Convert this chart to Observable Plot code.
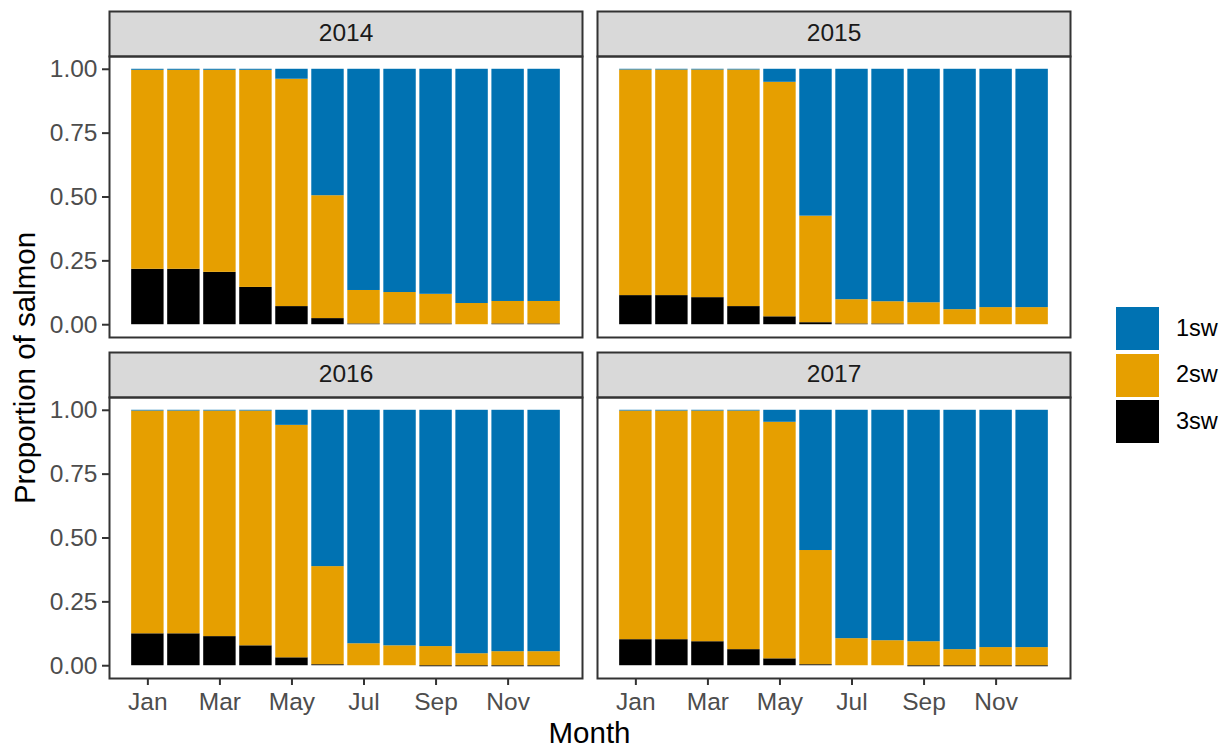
<!DOCTYPE html>
<html><head><meta charset="utf-8">
<script src="https://cdn.jsdelivr.net/npm/d3@7"></script>
<script src="https://cdn.jsdelivr.net/npm/@observablehq/plot@0.6"></script>
<style>
body{margin:0;background:#fff;font-family:"Liberation Sans",Arial,sans-serif;}
#wrap{position:relative;width:1226px;height:747px;overflow:hidden;background:#fff;}
#chart{position:absolute;left:0;top:0;}
.ytitle{position:absolute;left:25px;top:368px;transform:translate(-50%,-50%) rotate(-90deg);font-size:29.5px;white-space:nowrap;color:#000;line-height:1;}
.xtitle{position:absolute;left:589.5px;top:732.5px;transform:translate(-50%,-50%);font-size:29.5px;white-space:nowrap;color:#000;line-height:0.9;}
.key{position:absolute;left:1116px;width:43px;height:43px;}
.klab{position:absolute;left:1176px;font-size:23.5px;line-height:1;transform:translateY(-50%);color:#000;}
</style></head><body>
<div id="wrap">
  <div id="chart"></div>
  <div class="ytitle">Proportion of salmon</div>
  <div class="xtitle">Month</div>
  <div id="legend"></div>
</div>
<script>
const months = ["Jan","Feb","Mar","Apr","May","Jun","Jul","Aug","Sep","Oct","Nov","Dec"];
const monthTicks = ["Jan","Mar","May","Jul","Sep","Nov"];
const years = ["2014","2015","2016","2017"];
const ages = ["1sw","2sw","3sw"];
const ageColors = ["#0072B2","#E69F00","#000000"];
const yTicks = [0, 0.25, 0.5, 0.75, 1];

// Proportions by month (Jan..Dec)
const sw3_2014 = [0.217, 0.217, 0.205, 0.146, 0.071, 0.024, 0.003, 0.003, 0.003, 0.000, 0.003, 0.003];
const sw2_2014 = [0.779, 0.779, 0.791, 0.850, 0.890, 0.481, 0.131, 0.123, 0.116, 0.083, 0.088, 0.088];
const sw1_2014 = [0.004, 0.004, 0.004, 0.004, 0.039, 0.495, 0.866, 0.874, 0.881, 0.917, 0.909, 0.909];

const sw3_2015 = [0.114, 0.114, 0.106, 0.071, 0.031, 0.008, 0.003, 0.003, 0.000, 0.000, 0.000, 0.000];
const sw2_2015 = [0.883, 0.883, 0.891, 0.926, 0.918, 0.417, 0.095, 0.087, 0.086, 0.059, 0.067, 0.067];
const sw1_2015 = [0.003, 0.003, 0.003, 0.003, 0.051, 0.575, 0.902, 0.910, 0.914, 0.941, 0.933, 0.933];

const sw3_2016 = [0.125, 0.125, 0.114, 0.078, 0.031, 0.004, 0.000, 0.000, -0.004, -0.004, -0.004, -0.004];
const sw2_2016 = [0.872, 0.872, 0.883, 0.919, 0.910, 0.384, 0.086, 0.078, 0.075, 0.047, 0.055, 0.055];
const sw1_2016 = [0.003, 0.003, 0.003, 0.003, 0.059, 0.612, 0.914, 0.922, 0.925, 0.953, 0.945, 0.945];

const sw3_2017 = [0.102, 0.102, 0.094, 0.063, 0.027, 0.004, 0.000, 0.000, -0.004, -0.004, -0.004, -0.004];
const sw2_2017 = [0.895, 0.895, 0.903, 0.934, 0.926, 0.447, 0.106, 0.098, 0.094, 0.063, 0.071, 0.071];
const sw1_2017 = [0.003, 0.003, 0.003, 0.003, 0.047, 0.549, 0.894, 0.902, 0.906, 0.937, 0.929, 0.929];

const series = {
  "2014": {"3sw": sw3_2014, "2sw": sw2_2014, "1sw": sw1_2014},
  "2015": {"3sw": sw3_2015, "2sw": sw2_2015, "1sw": sw1_2015},
  "2016": {"3sw": sw3_2016, "2sw": sw2_2016, "1sw": sw1_2016},
  "2017": {"3sw": sw3_2017, "2sw": sw2_2017, "1sw": sw1_2017}
};

const panels = years.map((year, i) => ({year, col: i % 2, row: Math.floor(i / 2)}));
const rows = [];
for (const p of panels) {
  for (const age of ["3sw","2sw","1sw"]) {
    series[p.year][age].forEach((v, j) => rows.push({year: p.year, col: p.col, row: p.row, month: months[j], age, value: v}));
  }
}

const chart = Plot.plot({
  width: 1226, height: 747,
  marginLeft: 109, marginRight: 156, marginTop: 56, marginBottom: 69,
  style: {fontFamily: '"Liberation Sans", Arial, sans-serif', fontSize: "24.5px", background: "transparent", color: "#000"},
  fx: {domain: [0, 1], paddingInner: 15 / 488, paddingOuter: 0, axis: null, round: false, label: null},
  fy: {domain: [0, 1], paddingInner: 0.176, paddingOuter: 0, axis: null, round: false, label: null},
  x: {domain: months, paddingInner: 0.1, paddingOuter: 0.615, align: 0.5, round: false, label: null, axis: null},
  y: {domain: [-0.05, 1.05], label: null, axis: null},
  color: {domain: ages, range: ageColors},
  marks: [
    Plot.frame({fill: "#D9D9D9", stroke: "#333333", strokeWidth: 2, insetTop: -45, insetBottom: 281}),
    Plot.text(panels, {fx: "col", fy: "row", text: "year", frameAnchor: "top", lineAnchor: "middle", dy: -23, fill: "#1A1A1A"}),
    Plot.barY(rows, {fx: "col", fy: "row", x: "month", y: "value", fill: "age"}),
    Plot.frame({stroke: "#333333", strokeWidth: 2}),
    Plot.axisY({ticks: yTicks, tickFormat: d => d.toFixed(2), tickSize: 7, tickPadding: 5, stroke: "#333333", strokeWidth: 2, fill: "#4D4D4D", label: null}),
    Plot.axisX({ticks: monthTicks, tickSize: 7, tickPadding: 7, stroke: "#333333", strokeWidth: 2, fill: "#4D4D4D", label: null})
  ]
});
document.getElementById("chart").appendChild(chart);

const legend = document.getElementById("legend");
const keyTops = [307, 353.5, 400];
ages.forEach((a, i) => {
  const k = document.createElement("div");
  k.className = "key";
  k.style.top = keyTops[i] + "px";
  k.style.background = ageColors[i];
  legend.appendChild(k);
  const l = document.createElement("div");
  l.className = "klab";
  l.style.top = (keyTops[i] + 21.5) + "px";
  l.textContent = a;
  legend.appendChild(l);
});
</script>
</body></html>
